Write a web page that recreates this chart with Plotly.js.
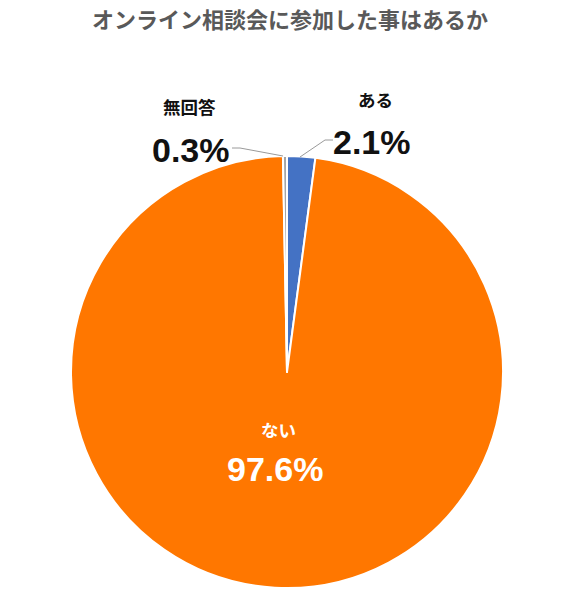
<!DOCTYPE html>
<html><head><meta charset="utf-8">
<script src="https://cdn.plot.ly/plotly-3.0.1.min.js"></script>
<style>html,body{margin:0;padding:0;background:#fff}</style>
</head><body>
<div id="chart" style="width:563px;height:597px"></div>
<script>
const categories = ["ある", "ない", "無回答"];
const values = [2.1, 97.6, 0.3];
const colors = ["#4472C4", "#FF7700", "#A5A5A5"];
const titleText = "オンライン相談会に参加した事はあるか";

const W = 563, H = 597;
const px = x => x / W;
const py = y => 1 - y / H;
const font = '"Noto Sans CJK JP", "Noto Sans", sans-serif';
const numFont = '"Liberation Sans", Arial, sans-serif';

const labelPos = [
  {name: [375, 100], pct: [372, 142], color: "#111"},
  {name: [278, 429], pct: [275, 469], color: "#fff"},
  {name: [189, 106], pct: [191, 150], color: "#111"}
];

const annotations = [];
categories.forEach((c, i) => {
  const p = labelPos[i];
  annotations.push({x: px(p.name[0]), y: py(p.name[1]), xref: "paper", yref: "paper",
    text: "<b>" + c + "</b>", showarrow: false, xanchor: "center", yanchor: "middle",
    font: {family: font, size: 17.5, color: p.color}});
  annotations.push({x: px(p.pct[0]), y: py(p.pct[1]), xref: "paper", yref: "paper",
    text: "<b>" + values[i].toFixed(1) + "%</b>", showarrow: false, xanchor: "center", yanchor: "middle",
    font: {family: numFont, size: 34, color: p.color}});
});

const lineStyle = {color: "#9a9a9a", width: 1};
const shapes = [
  {type: "path", xref: "paper", yref: "paper",
   path: `M ${px(300)} ${py(157)} L ${px(325)} ${py(140)} L ${px(333)} ${py(140)}`, line: lineStyle},
  {type: "path", xref: "paper", yref: "paper",
   path: `M ${px(232)} ${py(148)} L ${px(240)} ${py(148)} L ${px(283)} ${py(156)}`, line: lineStyle}
];

Plotly.newPlot("chart", [{
  type: "pie",
  labels: categories,
  values: values,
  sort: false,
  direction: "clockwise",
  rotation: 0,
  marker: {colors: colors, line: {color: "#ffffff", width: 2}},
  textinfo: "none",
  hoverinfo: "label+percent",
  domain: {x: [71 / W, 503 / W], y: [9 / H, 441 / H]},
  showlegend: false
}], {
  width: W, height: H,
  margin: {l: 0, r: 0, t: 0, b: 0},
  paper_bgcolor: "#fff",
  title: {text: "<b>" + titleText + "</b>", x: 290 / W, xanchor: "center", y: py(20), yanchor: "middle",
    font: {family: font, size: 22, color: "#595959"}},
  annotations: annotations,
  shapes: shapes
}, {displayModeBar: false, staticPlot: true});
</script>
</body></html>
